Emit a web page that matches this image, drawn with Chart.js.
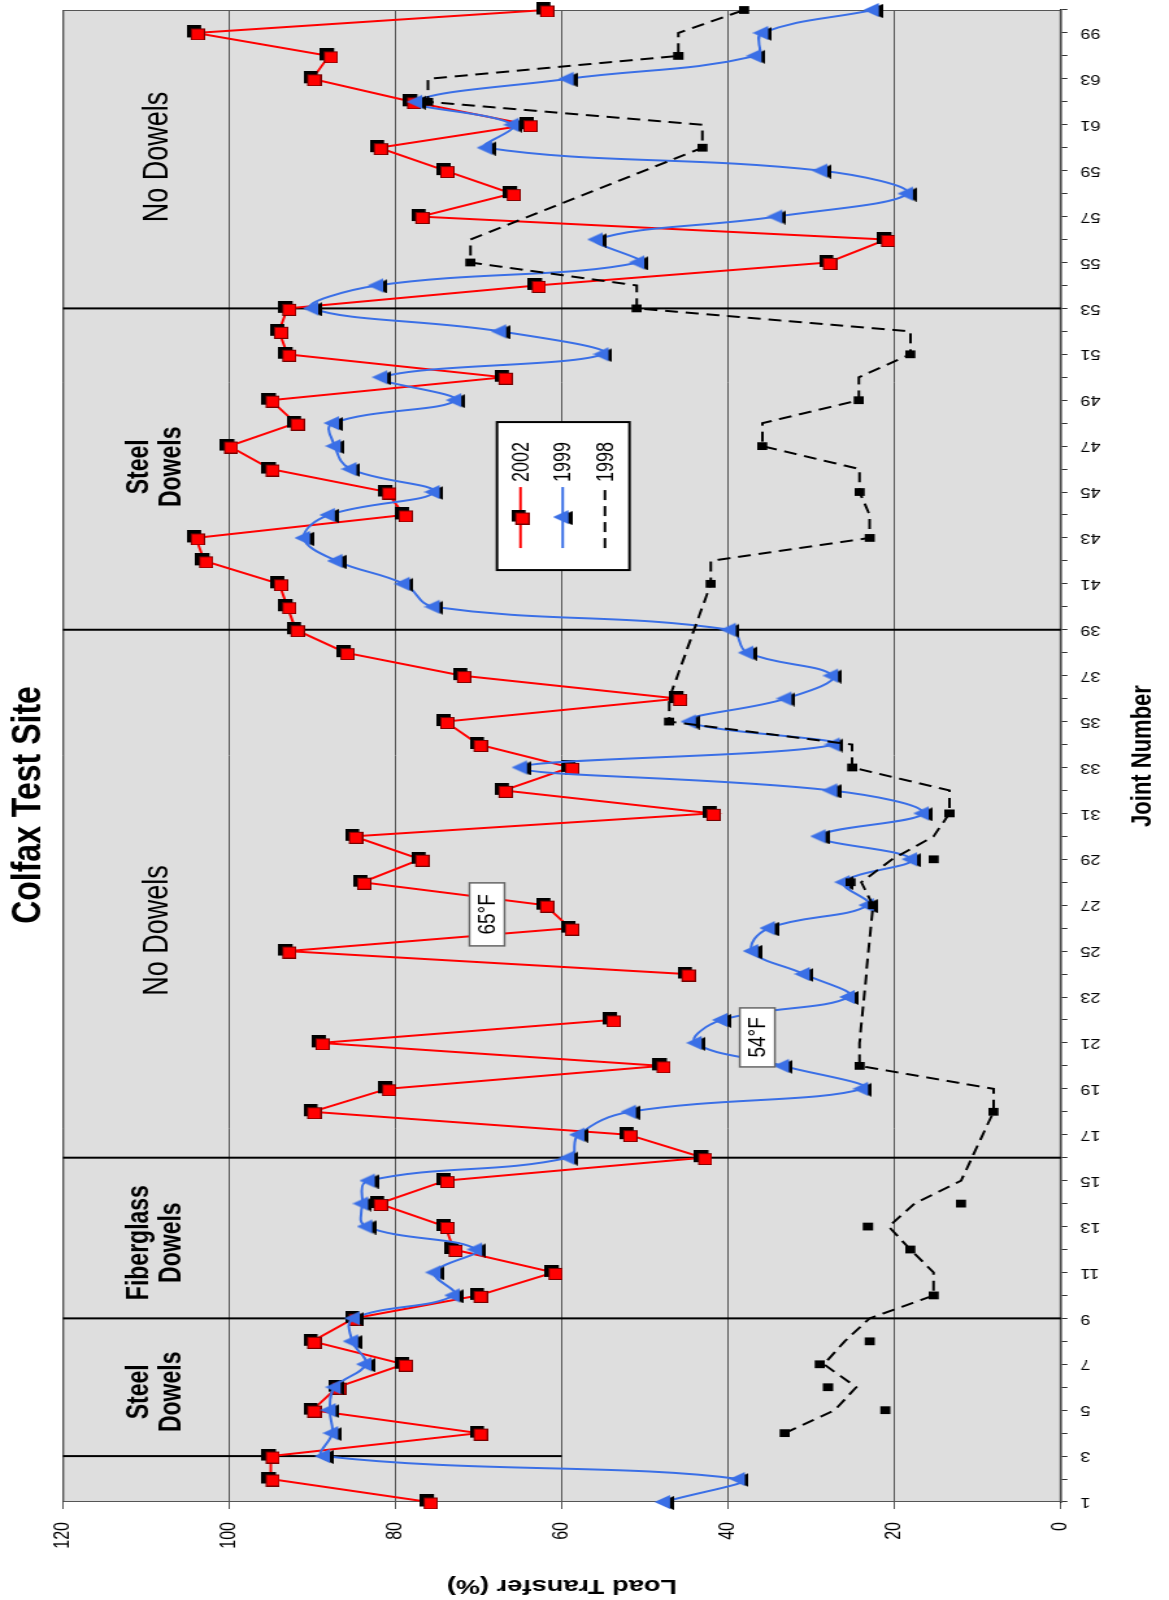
<!DOCTYPE html>
<html>
<head>
<meta charset="utf-8">
<script src="https://cdn.jsdelivr.net/npm/chart.js@4.4.1/dist/chart.umd.min.js"></script>
<style>
  html, body { margin: 0; padding: 0; background: #fff; }
  body { width: 1169px; height: 1600px; overflow: hidden; position: relative; }
  /* the chart is drawn upright, then turned on its side like the scan */
  #wrap { position: absolute; left: 0; top: 0; width: 1600px; height: 900px;
          transform-origin: 0 0;
          transform: translate(0px, 1600px) rotate(-90deg) scale(1, 1.2989); }
</style>
</head>
<body>
<div id="wrap"><canvas id="chart" width="1600" height="900"></canvas></div>
<script>
// ---------- data ----------
const joints = ["1","2","3","4","5","6","7","8","9","10",
  "11","12","13","14","15","16","17","18","19","20",
  "21","22","23","24","25","26","27","28","29","30",
  "31","32","33","34","35","36","37","38","39","40",
  "41","42","43","44","45","46","47","48","49","50",
  "51","52","53","54","55","56","57","58","59","60",
  "61","62","63","64","99","100"];

const lt2002 = [76, 95, 95, 70, 90, 87, 79, 90, 85, 70,
  61, 73, 74, 82, 74, 43, 52, 90, 81, 48,
  89, 54, null, 45, 93, 59, 62, 84, 77, 85,
  42, 67, 59, 70, 74, 46, 72, 86, 92, 93,
  94, 103, 104, 79, 81, 95, 100, 92, 95, 67,
  93, 94, 93, 63, 28, 21, 77, 66, 74, 82,
  64, 78, 90, 88, 104, 62];

const lt1999 = [47.7, 38.7, 88.6, 87.6, 87.9, 87.3, 83.6, 85.2, 85, 73,
  75.3, 70.3, 83.5, 84, 83.2, 59.2, 58, 51.8, 23.9, 33.4,
  43.9, 40.8, 25.5, 30.9, 37.1, 35.1, 23.2, 26.1, 18, 29,
  16.6, 27.6, 64.9, 27.3, 44.6, 33.1, 27.5, 37.7, 39.8, 75.4,
  79, 87.1, 91, 88, 75.4, 85.4, 87.3, 87.5, 72.8, 81.7,
  55.1, 67.4, 90, 82.2, 50.8, 55.8, 34.2, 18.5, 28.8, 69.1,
  65.9, 77.5, 59.3, 36.7, 35.9, 22.6];

const lt1998 = [null, null, null, 33.2, 21.1, 28, 29, 23, null, 15.3,
  null, 18.1, 23.2, 12, null, null, null, 8.1, null, 24.2,
  null, null, null, null, null, null, 22.6, 25.3, 15.3, null,
  13.4, null, 25.1, null, 47.1, null, null, null, null, null,
  42.1, null, 23, null, 24.2, null, 35.9, null, 24.3, null,
  18.1, null, 51, null, 71, null, null, null, null, 43.1,
  null, 76.1, null, 46, null, 38.1];

// dashed 1998 line as it is drawn in the scan
const line1998 = [null, null, null, 33.2, 27.2, 24.6, 28.5, 26, 23, 15.3,
  15.3, 18.1, 20.7, 17.6, 12, null, null, 8.1, 8.1, 24.2,
  24.2, null, null, null, null, null, 22.6, 24, 20.3, 15.3,
  13.4, 13.4, 25.1, 25.1, 47.1, 47.1, null, null, null, null,
  42.1, 42.1, 23, 23, 24.2, 24.2, 35.9, 35.9, 24.3, 24.3,
  18.1, 18.1, 51, 51, 71, 71, null, null, null, 43.1,
  43.1, 76.1, 76.1, 46, 46, 38.1];

const yTicks = [0, 20, 40, 60, 80, 100, 120];

// ---------- decorations ----------
const dividers = [
  { index: 2, from: 120, to: 60 },
  { index: 8, from: 120, to: 0 },
  { index: 15, from: 120, to: 0 },
  { index: 38, from: 120, to: 0 },
  { index: 52, from: 120, to: 0 }
];
const sectionNames = [
  { lines: ["Steel", "Dowels"], index: 4.8, value: 108.8, bold: true },
  { lines: ["Fiberglass", "Dowels"], index: 11.3, value: 108.8, bold: true },
  { lines: ["No Dowels"], index: 24.9, value: 108.5, bold: false },
  { lines: ["Steel", "Dowels"], index: 45.1, value: 108.8, bold: true },
  { lines: ["No Dowels"], index: 58.6, value: 108.5, bold: false }
];
const tempNotes = [
  { text: "65°F", index: 25.6, value: 69.0, w: 63, h: 27 },
  { text: "54°F", index: 20.24, value: 36.5, w: 59, h: 27 }
];

const RED = "#ff0000";
const BLUE = "#3a6fe6";
const FONT = 'Arial, "Liberation Sans", Helvetica, sans-serif';

Chart.defaults.font.family = FONT;
Chart.defaults.color = "#000";

const makeMarker = (w, h, draw) => {
  const c = document.createElement("canvas");
  c.width = w; c.height = h;
  draw(c.getContext("2d"));
  return c;
};

const redSquare = makeMarker(15, 14, g => {
  g.fillStyle = "#000"; g.fillRect(3, 0, 12, 11);
  g.fillStyle = RED; g.fillRect(0, 3, 12, 11);
  g.strokeStyle = "#700"; g.lineWidth = 1; g.strokeRect(0.5, 3.5, 11, 10);
});

const blueTri = makeMarker(16, 15, g => {
  g.fillStyle = "#000";
  g.beginPath(); g.moveTo(7, 3); g.lineTo(14, 15); g.lineTo(0, 15); g.closePath(); g.fill();
  g.fillStyle = BLUE;
  g.beginPath(); g.moveTo(8, 0); g.lineTo(15, 12); g.lineTo(1, 12); g.closePath(); g.fill();
});

const legendItems = [
  { text: "2002", color: RED, dash: [], marker: redSquare },
  { text: "1999", color: BLUE, dash: [], marker: blueTri },
  { text: "1998", color: "#000", dash: [10, 6], marker: null }
];

const decor = {
  id: "decor",
  beforeDraw(chart) {
    const { ctx, chartArea: a } = chart;
    ctx.save();
    ctx.fillStyle = "#dedede";
    ctx.fillRect(a.left, a.top, a.right - a.left, a.bottom - a.top);
    ctx.restore();
  },
  beforeDatasetsDraw(chart) {
    const { ctx, chartArea: a, scales: { x, y } } = chart;
    ctx.save();
    ctx.strokeStyle = "#555"; ctx.lineWidth = 1;
    ctx.strokeRect(a.left + 0.5, a.top + 0.5, a.right - a.left - 1, a.bottom - a.top - 1);

    ctx.strokeStyle = "#000"; ctx.lineWidth = 2;
    dividers.forEach(d => {
      const px = x.getPixelForValue(d.index);
      ctx.beginPath();
      ctx.moveTo(px, y.getPixelForValue(d.from));
      ctx.lineTo(px, y.getPixelForValue(d.to));
      ctx.stroke();
    });

    ctx.fillStyle = "#000"; ctx.textAlign = "center"; ctx.textBaseline = "middle";
    sectionNames.forEach(s => {
      ctx.font = s.bold ? `bold 23px ${FONT}` : `27px ${FONT}`;
      const cx = x.getPixelForValue(s.index);
      const cy = y.getPixelForValue(s.value);
      s.lines.forEach((t, k) => {
        ctx.fillText(t, cx, cy + (k - (s.lines.length - 1) / 2) * 25.4);
      });
    });
    ctx.restore();
  },
  afterDatasetsDraw(chart) {
    const { ctx, scales: { x, y } } = chart;
    ctx.save();
    ctx.font = `19px ${FONT}`; ctx.textAlign = "center"; ctx.textBaseline = "middle";
    tempNotes.forEach(n => {
      const cx = x.getPixelForValue(n.index), cy = y.getPixelForValue(n.value);
      ctx.fillStyle = "#fff";
      ctx.fillRect(cx - n.w / 2, cy - n.h / 2, n.w, n.h);
      ctx.strokeStyle = "#666"; ctx.lineWidth = 1.5;
      ctx.strokeRect(cx - n.w / 2, cy - n.h / 2, n.w, n.h);
      ctx.fillStyle = "#000";
      ctx.fillText(n.text, cx, cy + 1);
    });
    ctx.restore();
  },
  afterDraw(chart) {
    // legend box floating inside the plot
    const { ctx, scales: { x, y } } = chart;
    const left = x.getPixelForValue(40.6), top = y.getPixelForValue(67.8);
    const w = 148, h = 102;
    ctx.save();
    ctx.fillStyle = "#fff"; ctx.fillRect(left, top, w, h);
    ctx.strokeStyle = "#000"; ctx.lineWidth = 2; ctx.strokeRect(left, top, w, h);
    ctx.font = `18px ${FONT}`; ctx.textAlign = "left"; ctx.textBaseline = "middle";
    legendItems.forEach((it, k) => {
      const ry = top + 18 + k * 32.5;
      ctx.strokeStyle = it.color; ctx.lineWidth = 2; ctx.setLineDash(it.dash);
      ctx.beginPath(); ctx.moveTo(left + 22, ry); ctx.lineTo(left + 83, ry); ctx.stroke();
      ctx.setLineDash([]);
      if (it.marker) ctx.drawImage(it.marker, left + 53 - it.marker.width / 2, ry - it.marker.height / 2);
      ctx.fillStyle = "#000";
      ctx.fillText(it.text, left + 88, ry + 1);
    });
    ctx.restore();
  }
};

new Chart(document.getElementById("chart").getContext("2d"), {
  type: "line",
  data: {
    labels: joints,
    datasets: [
      { label: "1998", data: lt1998, showLine: false, pointStyle: "rect", pointRadius: 5.5,
        backgroundColor: "#000", borderColor: "#000", borderWidth: 0 },
      { label: "1998 line", data: line1998, borderColor: "#000", borderWidth: 2, borderDash: [10, 6],
        pointRadius: 0, spanGaps: true, tension: 0, fill: false },
      { label: "1999", data: lt1999, borderColor: BLUE, borderWidth: 2, tension: 0.4,
        pointStyle: blueTri, pointRadius: 7, fill: false },
      { label: "2002", data: lt2002, borderColor: RED, borderWidth: 2, tension: 0,
        pointStyle: redSquare, pointRadius: 7, spanGaps: false, fill: false }
    ]
  },
  options: {
    responsive: false,
    animation: false,
    devicePixelRatio: 1,
    layout: { padding: { top: 0, right: 10, bottom: 0, left: 0 } },
    plugins: {
      legend: { display: false },
      tooltip: { enabled: false },
      title: { display: true, text: "Colfax Test Site", color: "#000",
               font: { size: 32, weight: "bold" }, padding: { top: 3, bottom: 7 } }
    },
    scales: {
      x: {
        type: "category",
        offset: false,
        grid: { display: true, drawOnChartArea: false, drawTicks: true, tickLength: 5, color: "#333" },
        border: { display: true, color: "#222", width: 1.5 },
        ticks: { autoSkip: false, minRotation: 90, maxRotation: 90, padding: 10,
                 font: { size: 14 }, color: "#000",
                 callback: (v, i) => (i % 2 === 0 ? joints[i] : "") },
        title: { display: true, text: "Joint Number", color: "#000",
                 font: { size: 22, weight: "bold" }, padding: { top: 4, bottom: 7 } },
        afterFit: s => { s.height = 83.2; s.paddingLeft = 0; s.paddingRight = 0; }
      },
      y: {
        min: 0, max: 120,
        afterBuildTicks: s => { s.ticks = yTicks.map(v => ({ value: v })); },
        grid: { color: "#555", lineWidth: 1, tickLength: 7 },
        border: { display: true, color: "#333" },
        ticks: { padding: 13, font: { size: 16 }, color: "#000" },
        title: { display: true, text: "Load Transfer (%)", color: "#000",
                 font: { size: 21, weight: "bold" }, padding: { top: 2, bottom: 0 } },
        afterFit: s => { s.width = 98; s.paddingTop = 0; s.paddingBottom = 0; }
      }
    }
  },
  plugins: [decor]
});
</script>
</body>
</html>
